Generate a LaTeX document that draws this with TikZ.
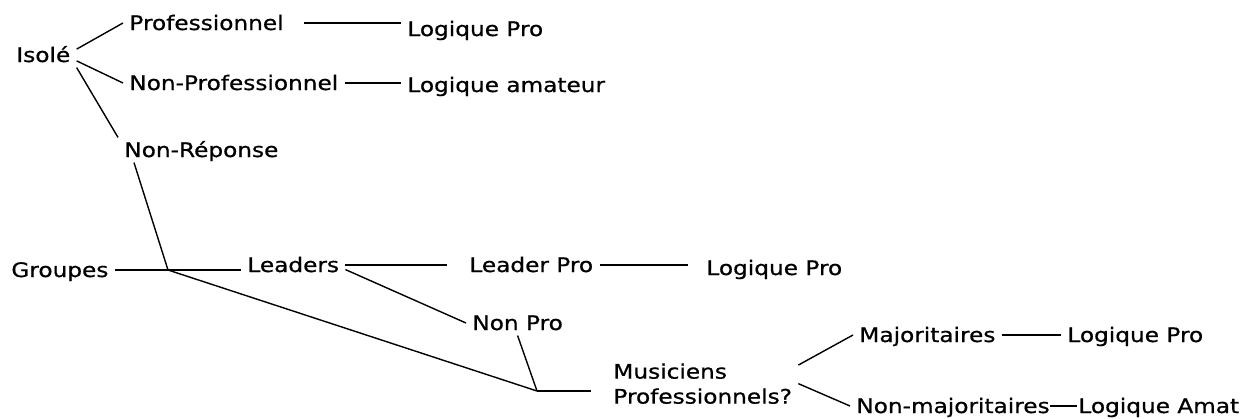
\documentclass[tikz,border=0pt]{standalone}
\usepackage{fontspec}
\setmainfont{DejaVu Sans}[FakeStretch=1.16, FakeBold=0.8]
\tikzset{
    tree-label/.style = {font=\fontsize{10}{12.5}\selectfont, inner xsep=3pt, inner ysep=2pt, text height=7.6pt, text depth=0.6pt, anchor=base west},
    tree-block/.style = {font=\fontsize{10}{12.5}\selectfont, inner xsep=3pt, inner ysep=2pt, align=left, anchor=north west},
    tree-line/.style = {draw=black, line width=0.7pt},
}

\begin{document}
\begin{tikzpicture}[x=0.5pt, y=-0.5pt]
\useasboundingbox (0,0) rectangle (1246,418);
\node[tree-label] (iso) at (10,62) {Isolé};
\node[tree-label] (prof) at (123,30) {Professionnel};
\node[tree-label] (lp1) at (401,36) {Logique Pro};
\node[tree-label] (nonprof) at (123,90) {Non-Professionnel};
\node[tree-label] (lamateur) at (401,92) {Logique amateur};
\node[tree-label] (nonrep) at (118,157) {Non-Réponse};
\node[tree-label] (grp) at (5,277) {Groupes};
\node[tree-label] (lead) at (241,272) {Leaders};
\node[tree-label] (leadpro) at (463,272) {Leader Pro};
\node[tree-label] (lp2) at (700,275) {Logique Pro};
\node[tree-label] (nonpro) at (466,330) {Non Pro};
\node[tree-block] (mus) at (607,359) {Musiciens\\Professionnels?};
\node[tree-label] (maj) at (853,342) {Majoritaires};
\node[tree-label] (lp3) at (1061,342) {Logique Pro};
\node[tree-label] (nonmaj) at (850,413) {Non-majoritaires};
\node[tree-label] (lamat) at (1072,413) {Logique Amat};
\coordinate (grp-fork) at (168,270);
\coordinate (mus-fork) at (537,391);

\draw[tree-line] (iso.10) -- (prof.west);
\draw[tree-line] (iso.-10) -- (nonprof.west);
\draw[tree-line] (iso.south east) -- (nonrep.north west);
\draw[tree-line, shorten <=7pt] (prof.east) -- (lp1.west |- prof.east);
\draw[tree-line] (nonprof.east) -- (lamateur.west |- nonprof.east);
\draw[tree-line] ([xshift=8pt]nonrep.south west) -- (grp-fork);
\draw[tree-line] (grp.east) -- (lead.west |- grp.east);
\draw[tree-line, shorten >=8pt] (lead.east) -- (leadpro.west);
\draw[tree-line, shorten >=6pt] (leadpro.east) -- (lp2.west |- leadpro.east);
\draw[tree-line] (lead.-5) -- (nonpro.west);
\draw[tree-line] (nonpro.south) -- (mus-fork);
\draw[tree-line] (grp-fork) -- (mus-fork);
\draw[tree-line] (mus-fork) -- ([xshift=-8pt]mus.west |- mus-fork);
\draw[tree-line] (mus.11) -- (maj.west);
\draw[tree-line] (mus.east) -- (nonmaj.west);
\draw[tree-line] (maj.east) -- (lp3.west);
\draw[tree-line, shorten <=-3pt, shorten >=-2.5pt] (nonmaj.east) -- (lamat.west);
\end{tikzpicture}
\end{document}
